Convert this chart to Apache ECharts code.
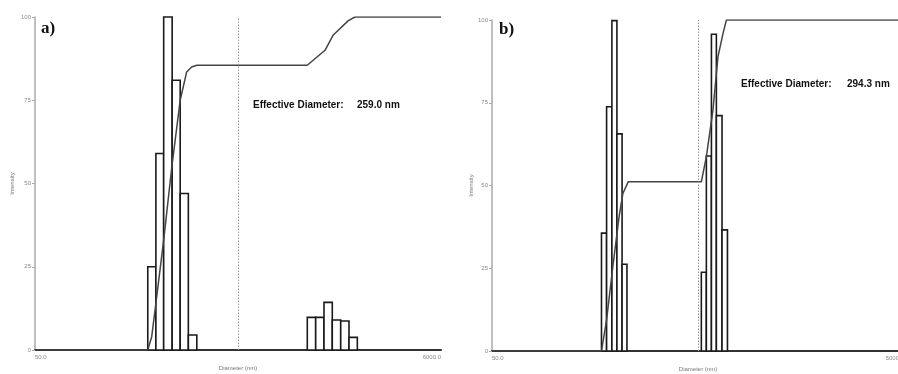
<!DOCTYPE html>
<html>
<head>
<meta charset="utf-8">
<script src="https://cdn.jsdelivr.net/npm/echarts@6/dist/echarts.min.js"></script>
<style>
html,body{margin:0;padding:0;background:#fff;}
#c{width:898px;height:374px;}
</style>
</head>
<body>
<div id="c"></div>
<script>
// ---- Data ----
const xRangeA = [50, 6000];
const xRangeB = [50, 5000];
const yTicks = [0, 25, 50, 75, 100];

// panel a) histogram bins: edges (nm) and intensities
const binEdgesA1 = [189, 208, 228, 252, 277, 305, 337];
const heightsA1 = [25, 59, 100, 81, 47, 4.5];
const binEdgesA2 = [1240, 1369, 1510, 1665, 1839, 2028, 2237];
const heightsA2 = [9.8, 9.8, 14.3, 9.0, 8.7, 3.8];
// panel a) cumulative curve
const cumDiamA = [50, 189, 198, 208, 228, 251, 277, 299, 317, 337, 1240, 1528, 1685, 2011, 2177, 6000];
const cumValA  = [0, 0, 4, 14, 33, 55, 75, 83.5, 85, 85.5, 85.5, 90, 94.6, 98.9, 100, 100];

// panel b) histogram bins
const binEdgesB1 = [170, 180, 191, 202, 214, 226];
const heightsB1 = [35.6, 73.8, 99.8, 65.6, 26.2];
const binEdgesB2 = [519, 549, 581, 614, 654, 695];
const heightsB2 = [23.8, 58.9, 95.7, 71.1, 36.6];
// panel b) cumulative curve
const cumDiamB = [50, 170, 180, 193, 207, 216, 229, 519, 549, 591, 625, 661, 687, 5000];
const cumValB  = [0, 0, 9.4, 25.5, 40.6, 47.6, 51.1, 51.1, 58.7, 72.8, 88.9, 95.9, 100, 100];

const effLabelA = ['Effective Diameter:', '259.0 nm'];
const effLabelB = ['Effective Diameter:', '294.3 nm'];

// ---- build ----
function binsToData(edges, heights) {
  const out = [];
  for (let i = 0; i < heights.length; i++) out.push([edges[i], edges[i + 1], heights[i]]);
  return out;
}
function zip(a, b) { return a.map((v, i) => [v, b[i]]); }

function renderBar(params, api) {
  const p0 = api.coord([api.value(0), 0]);
  const p1 = api.coord([api.value(1), api.value(2)]);
  return {
    type: 'rect',
    shape: { x: p0[0], y: p1[1], width: p1[0] - p0[0], height: p0[1] - p1[1] },
    style: { fill: '#fff', stroke: '#1a1a1a', lineWidth: 1.6 }
  };
}

function xAxisFor(gi, range) {
  const [mn, mx] = range;
  return {
    type: 'log', logBase: 10, gridIndex: gi, min: mn, max: mx,
    name: 'Diameter (nm)', nameLocation: 'middle', nameGap: 14,
    nameTextStyle: { fontSize: 6, color: '#777', fontFamily: 'Liberation Sans' },
    axisLine: { lineStyle: { color: '#333', width: 2 } },
    axisTick: { show: false },
    splitLine: { show: false },
    minorTick: { show: false },
    axisLabel: {
      fontSize: 6, color: '#888', margin: 4, fontFamily: 'Liberation Sans',
      showMinLabel: true, showMaxLabel: true,
      alignMinLabel: 'left', alignMaxLabel: 'right',
      formatter: function (v) {
        if (Math.abs(v - mn) < mn * 1e-6) return mn.toFixed(1);
        if (Math.abs(v - mx) < mx * 1e-6) return mx.toFixed(1);
        return '';
      }
    }
  };
}
function yAxisFor(gi, nameGap) {
  return {
    type: 'value', gridIndex: gi, min: yTicks[0], max: yTicks[yTicks.length - 1], interval: 25,
    name: 'Intensity', nameLocation: 'middle', nameGap: nameGap, nameRotate: 90,
    nameTextStyle: { fontSize: 6, color: '#777', fontFamily: 'Liberation Sans' },
    axisLine: { show: true, lineStyle: { color: '#aaa', width: 1.5 } },
    axisTick: { show: true, length: 3, lineStyle: { color: '#aaa' } },
    splitLine: { show: false },
    axisLabel: { fontSize: 6, color: '#888', margin: 4, fontFamily: 'Liberation Sans' }
  };
}
function markMid(range) {
  return {
    silent: true, symbol: 'none', label: { show: false },
    lineStyle: { type: [1.5, 1.5], color: '#999', width: 1 },
    data: [{ xAxis: Math.sqrt(range[0] * range[1]) }]
  };
}

const chart = echarts.init(document.getElementById('c'), null, { renderer: 'canvas' });
chart.setOption({
  animation: false,
  backgroundColor: '#fff',
  grid: [
    { left: 35, top: 17, width: 406, height: 333, outerBoundsMode: 'none', containLabel: false },
    { left: 492, top: 20, width: 412, height: 331, outerBoundsMode: 'none', containLabel: false }
  ],
  xAxis: [xAxisFor(0, xRangeA), xAxisFor(1, xRangeB)],
  yAxis: [yAxisFor(0, 20), yAxisFor(1, 16)],
  series: [
    { type: 'custom', xAxisIndex: 0, yAxisIndex: 0, renderItem: renderBar, encode: { x: [0, 1], y: 2 },
      data: binsToData(binEdgesA1, heightsA1).concat(binsToData(binEdgesA2, heightsA2)), z: 2,
      markLine: markMid(xRangeA) },
    { type: 'line', xAxisIndex: 0, yAxisIndex: 0, data: zip(cumDiamA, cumValA), showSymbol: false,
      lineStyle: { color: '#444', width: 1.5 }, z: 3 },
    { type: 'custom', xAxisIndex: 1, yAxisIndex: 1, renderItem: renderBar, encode: { x: [0, 1], y: 2 },
      data: binsToData(binEdgesB1, heightsB1).concat(binsToData(binEdgesB2, heightsB2)), z: 2,
      markLine: markMid(xRangeB) },
    { type: 'line', xAxisIndex: 1, yAxisIndex: 1, data: zip(cumDiamB, cumValB), showSymbol: false,
      lineStyle: { color: '#444', width: 1.5 }, z: 3 }
  ],
  graphic: [
    { type: 'text', left: 41, top: 20, style: { text: 'a)', font: 'bold 17px "Liberation Serif"', fill: '#111' } },
    { type: 'text', left: 499, top: 21, style: { text: 'b)', font: 'bold 17px "Liberation Serif"', fill: '#111' } },
    { type: 'text', left: 253, top: 100, style: { text: effLabelA[0], font: 'bold 10px "Liberation Sans"', fill: '#111' } },
    { type: 'text', left: 357, top: 100, style: { text: effLabelA[1], font: 'bold 10px "Liberation Sans"', fill: '#111' } },
    { type: 'text', left: 741, top: 79, style: { text: effLabelB[0], font: 'bold 10px "Liberation Sans"', fill: '#111' } },
    { type: 'text', left: 847, top: 79, style: { text: effLabelB[1], font: 'bold 10px "Liberation Sans"', fill: '#111' } }
  ]
});
</script>
</body>
</html>
